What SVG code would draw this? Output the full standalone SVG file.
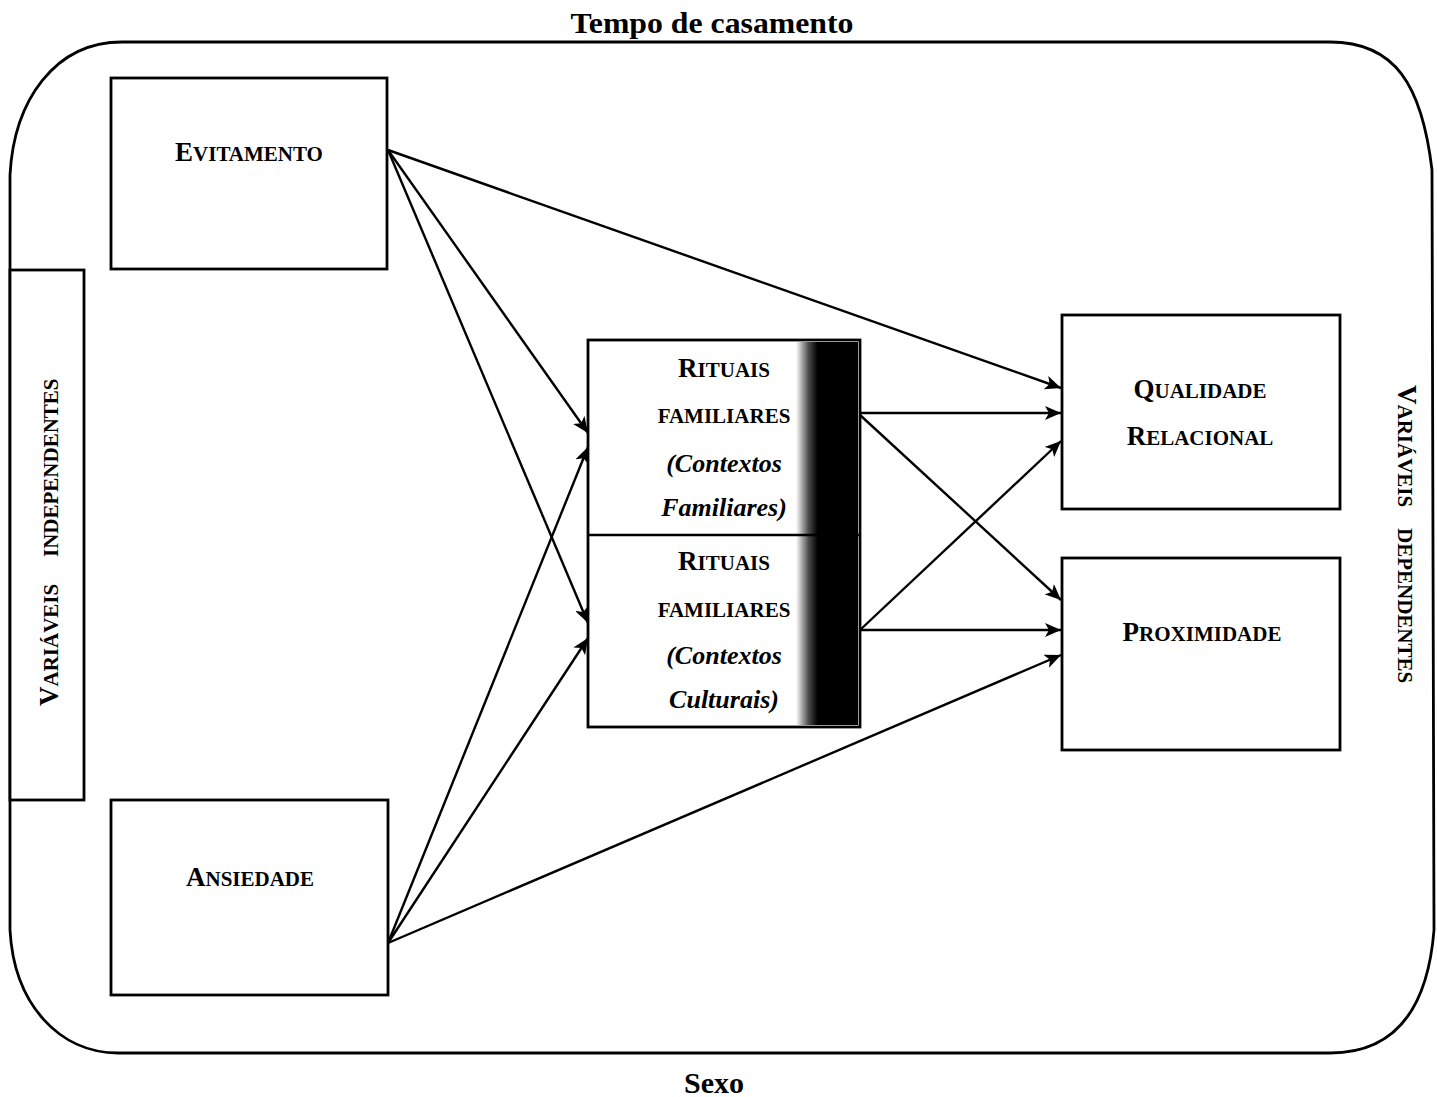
<svg xmlns="http://www.w3.org/2000/svg" width="1437" height="1097" viewBox="0 0 1437 1097">
<style>
.box{fill:#fff;stroke:#000;stroke-width:2.8}
.lbl{font-family:"Liberation Serif","Times New Roman",serif;font-weight:bold;fill:#000;text-anchor:middle;font-size:21px}
.st{text-anchor:start}
.big{font-size:27px}
.it{font-style:italic;font-size:26px}
.edge{stroke:#000;stroke-width:2.4;fill:none;marker-end:url(#ah)}
</style>
<defs>
<marker id="ah" markerUnits="userSpaceOnUse" markerWidth="18" markerHeight="14" refX="16" refY="7" orient="auto">
<path d="M0,0 L16,7 L0,14 L4,7 Z" fill="#000"/>
</marker>
<linearGradient id="dark" x1="0" y1="0" x2="1" y2="0">
<stop offset="0" stop-color="#000" stop-opacity="0"/>
<stop offset="0.2" stop-color="#000" stop-opacity="0.7"/>
<stop offset="0.35" stop-color="#000" stop-opacity="1"/>
<stop offset="1" stop-color="#000" stop-opacity="1"/>
</linearGradient>
</defs>
<rect width="1437" height="1097" fill="#fff"/>

<g id="frame">
<path d="M122,42 L1330,42 C1395,42 1422,85 1432,170 L1434,930 C1428,1005 1398,1053 1330,1053 L118,1053 C60,1053 14,1005 10,930 L10,175 C14,100 55,42 122,42 Z" fill="none" stroke="#000" stroke-width="2.8"/>
<text class="lbl" x="712" y="33" style="font-size:30px" textLength="283" lengthAdjust="spacingAndGlyphs">Tempo de casamento</text>
<text class="lbl" x="714" y="1093" style="font-size:30px">Sexo</text>
</g>

<g id="independentes">
<rect class="box" x="10" y="270" width="74" height="530"/>
<g transform="translate(58,706) rotate(-90)">
<text class="lbl st" x="0" y="0"><tspan class="big">V</tspan>ARIÁVEIS</text>
<text class="lbl st" x="149" y="0">INDEPENDENTES</text>
</g>
</g>

<g id="dependentes">
<g transform="translate(1398,385) rotate(90)">
<text class="lbl st" x="0" y="0"><tspan class="big">V</tspan>ARIÁVEIS</text>
<text class="lbl st" x="143" y="0">DEPENDENTES</text>
</g>
</g>

<g id="evitamento">
<rect class="box" x="111" y="78" width="276" height="191"/>
<text class="lbl" x="249" y="161"><tspan class="big">E</tspan>VITAMENTO</text>
</g>

<g id="ansiedade">
<rect class="box" x="111" y="800" width="277" height="195"/>
<text class="lbl" x="250" y="886"><tspan class="big">A</tspan>NSIEDADE</text>
</g>

<g id="rituais">
<rect class="box" x="588" y="340" width="272" height="387"/>
<rect x="796" y="342" width="62" height="383" fill="url(#dark)"/>
<line x1="588" y1="535" x2="860" y2="535" stroke="#000" stroke-width="2.4"/>
<text class="lbl" x="724" y="377"><tspan class="big">R</tspan>ITUAIS</text>
<text class="lbl" x="724" y="423">FAMILIARES</text>
<text class="lbl it" x="724" y="472">(Contextos</text>
<text class="lbl it" x="724" y="516">Familiares)</text>
<text class="lbl" x="724" y="570"><tspan class="big">R</tspan>ITUAIS</text>
<text class="lbl" x="724" y="617">FAMILIARES</text>
<text class="lbl it" x="724" y="664">(Contextos</text>
<text class="lbl it" x="724" y="708">Culturais)</text>
</g>

<g id="qualidade">
<rect class="box" x="1062" y="315" width="278" height="194"/>
<text class="lbl" x="1200" y="398"><tspan class="big">Q</tspan>UALIDADE</text>
<text class="lbl" x="1200" y="445"><tspan class="big">R</tspan>ELACIONAL</text>
</g>

<g id="proximidade">
<rect class="box" x="1062" y="558" width="278" height="192"/>
<text class="lbl" x="1202" y="641"><tspan class="big">P</tspan>ROXIMIDADE</text>
</g>

<g id="connectors">
<line class="edge" x1="388" y1="150" x2="1061" y2="388"/>
<line class="edge" x1="388" y1="150" x2="588" y2="433"/>
<line class="edge" x1="388" y1="150" x2="588" y2="623"/>
<line class="edge" x1="388" y1="943" x2="588" y2="447"/>
<line class="edge" x1="388" y1="943" x2="588" y2="638"/>
<line class="edge" x1="388" y1="943" x2="1061" y2="655"/>
<line class="edge" x1="860" y1="413" x2="1061" y2="413"/>
<line class="edge" x1="860" y1="415" x2="1061" y2="600"/>
<line class="edge" x1="860" y1="630" x2="1061" y2="441"/>
<line class="edge" x1="860" y1="630" x2="1061" y2="630"/>
</g>
</svg>
